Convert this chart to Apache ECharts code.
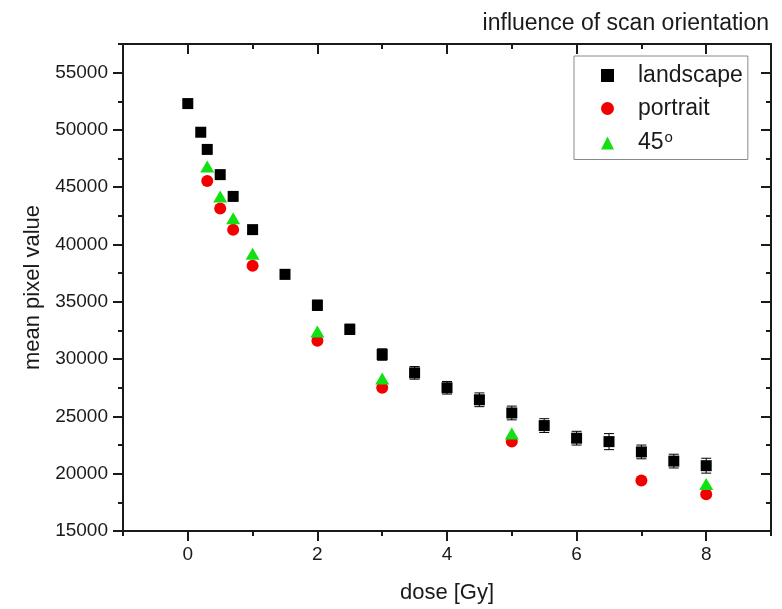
<!DOCTYPE html>
<html>
<head>
<meta charset="utf-8">
<script src="https://cdn.jsdelivr.net/npm/echarts@6/dist/echarts.min.js"></script>
<style>
  html, body { margin: 0; padding: 0; background: #fff; }
  #chart { width: 782px; height: 609px; }
</style>
</head>
<body>
<div id="chart"></div>
<script>
// doses [Gy]
var landscapeX = [0, 0.2, 0.3, 0.5, 0.7, 1, 1.5, 2, 2.5, 3, 3.5, 4, 4.5, 5, 5.5, 6, 6.5, 7, 7.5, 8]
var landscapeY = [52300, 49800, 48300, 46100, 44200, 41300, 37400, 34700, 32600, 30400, 28800, 27500, 26450, 25300, 24200, 23100, 22800, 21900, 21100, 20700]
var landscapeErr = [250, 250, 300, 300, 300, 350, 400, 450, 450, 500, 550, 550, 600, 600, 600, 600, 700, 600, 600, 650]

var portraitX = [0.3, 0.5, 0.7, 1, 2, 3, 5, 7, 8]
var portraitY = [45550, 43150, 41300, 38150, 31600, 27500, 22800, 19400, 18200]

var diagX = [0.3, 0.5, 0.7, 1, 2, 3, 5, 8]
var diagY = [46800, 44200, 42300, 39200, 32400, 28300, 23500, 19100]

var xMajor = [0, 2, 4, 6, 8]
var xMinor = [-1, 1, 3, 5, 7, 9]
var yMajor = [15000, 20000, 25000, 30000, 35000, 40000, 45000, 50000, 55000]
var yMinor = [17500, 22500, 27500, 32500, 37500, 42500, 47500, 52500, 57500]

var FONT = "'Liberation Sans', Arial, sans-serif"
var INK = '#1a1a1a'

function zip(xs, ys) {
    return xs.map(function (x, i) { return [x, ys[i]] })
}

// one axis layer: either the visible line+labels or an overlay carrying extra ticks
function makeAxis(kind, pos, ticks, len, inside, withLine, withLabels) {
    return {
        type: 'value',
        position: pos,
        min: kind === 'x' ? -1 : 15000,
        max: kind === 'x' ? 9 : 57500,
        interval: kind === 'x' ? 1 : 2500,
        splitLine: { show: false },
        axisLine: { show: withLine, onZero: false, lineStyle: { color: INK, width: 2 } },
        axisTick: { show: true, inside: inside, length: len, customValues: ticks, lineStyle: { color: INK, width: 2 } },
        axisLabel: {
            show: withLabels,
            customValues: ticks,
            color: INK,
            fontSize: 19,
            fontFamily: FONT,
            margin: kind === 'x' ? 14 : 15,
            formatter: function (v) { return String(v) }
        }
    }
}

var xAxes = [
    makeAxis('x', 'bottom', xMajor, 10, false, true, true),
    makeAxis('x', 'bottom', xMinor, 5, false, false, false),
    makeAxis('x', 'top', xMajor, 10, true, true, false),
    makeAxis('x', 'top', xMinor, 5, true, false, false)
]
xAxes[0].name = 'dose [Gy]'
xAxes[0].nameLocation = 'middle'
xAxes[0].nameGap = 51
xAxes[0].nameTextStyle = { fontSize: 22, fontFamily: FONT, color: INK }

var yAxes = [
    makeAxis('y', 'left', yMajor, 10, false, true, true),
    makeAxis('y', 'left', yMinor, 5, false, false, false),
    makeAxis('y', 'right', yMajor, 10, true, true, false),
    makeAxis('y', 'right', yMinor, 5, true, false, false)
]
yAxes[0].name = 'mean pixel value'
yAxes[0].nameLocation = 'middle'
yAxes[0].nameGap = 76
yAxes[0].nameTextStyle = { fontSize: 22, fontFamily: FONT, color: INK }

var errData = landscapeX.map(function (x, i) {
    return [x, landscapeY[i] - landscapeErr[i], landscapeY[i] + landscapeErr[i]]
})

function renderErr(params, api) {
    var lo = api.coord([api.value(0), api.value(1)])
    var hi = api.coord([api.value(0), api.value(2)])
    var w = 5
    var st = { stroke: '#000', lineWidth: 1 }
    return {
        type: 'group',
        children: [
            { type: 'line', shape: { x1: lo[0], y1: lo[1], x2: hi[0], y2: hi[1] }, style: st },
            { type: 'line', shape: { x1: lo[0] - w, y1: lo[1], x2: lo[0] + w, y2: lo[1] }, style: st },
            { type: 'line', shape: { x1: hi[0] - w, y1: hi[1], x2: hi[0] + w, y2: hi[1] }, style: st }
        ]
    }
}

var chart = echarts.init(document.getElementById('chart'))
chart.setOption({
    animation: false,
    backgroundColor: '#fff',
    textStyle: { fontFamily: FONT },
    title: {
        text: 'influence of scan orientation',
        right: 8,
        top: 7,
        textStyle: { fontSize: 23, fontWeight: 'normal', color: INK, fontFamily: FONT }
    },
    grid: { left: 123, right: 11, top: 44, bottom: 77, containLabel: false },
    xAxis: xAxes,
    yAxis: yAxes,
    legend: {
        orient: 'vertical',
        left: 574,
        top: 56,
        padding: [8, 5, 5, 27],
        itemGap: 10,
        itemWidth: 13,
        itemHeight: 13,
        borderColor: '#8a8a8a',
        borderWidth: 1,
        backgroundColor: '#fff',
        data: ['landscape', 'portrait', '45°'],
        formatter: function (name) {
            return name === '45°' ? '45{sup|o}' : name
        },
        textStyle: {
            fontSize: 23,
            lineHeight: 22,
            fontFamily: FONT,
            color: INK,
            padding: [0, 0, 0, 19],
            rich: { sup: { fontSize: 15, fontFamily: FONT, color: INK, padding: [0, 0, 11, 1] } }
        }
    },
    series: [
        {
            name: 'landscape-err',
            type: 'custom',
            renderItem: renderErr,
            data: errData,
            encode: { x: 0, y: [1, 2] },
            z: 1
        },
        {
            name: 'landscape',
            type: 'scatter',
            symbol: 'rect',
            symbolSize: 11,
            itemStyle: { color: '#000', opacity: 1 },
            data: zip(landscapeX, landscapeY),
            z: 2
        },
        {
            name: 'portrait',
            type: 'scatter',
            symbol: 'circle',
            symbolSize: 12,
            itemStyle: { color: '#f20000', opacity: 1 },
            data: zip(portraitX, portraitY),
            z: 3
        },
        {
            name: '45°',
            type: 'scatter',
            symbol: 'triangle',
            symbolSize: [14, 12],
            itemStyle: { color: '#12e012', opacity: 1 },
            data: zip(diagX, diagY),
            z: 4
        }
    ]
})
</script>
</body>
</html>
